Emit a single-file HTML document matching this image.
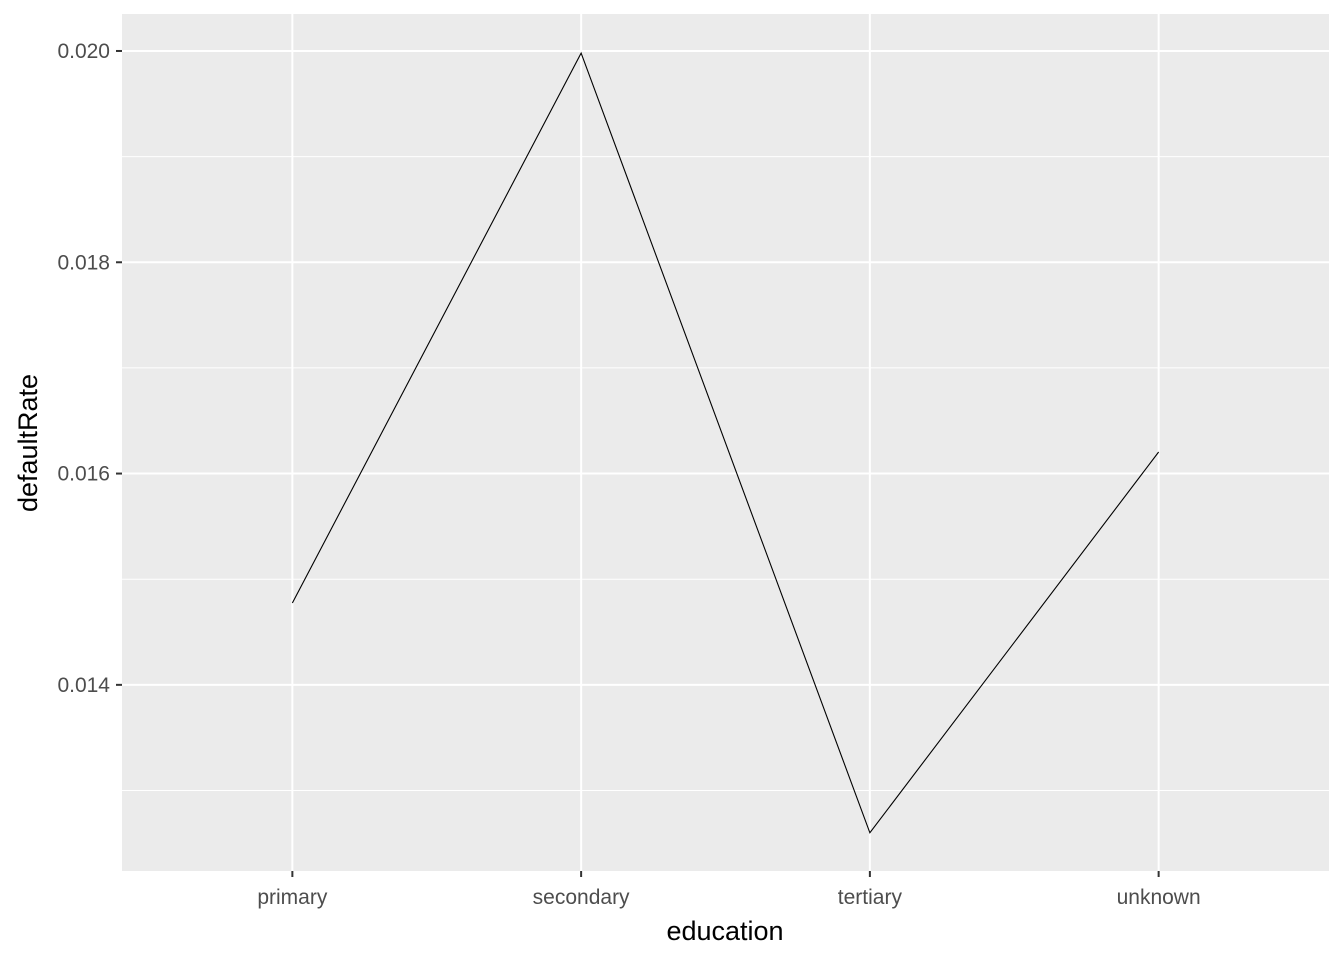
<!DOCTYPE html>
<html><head><meta charset="utf-8"><style>
html,body{margin:0;padding:0;background:#fff;}
svg{display:block;font-family:"Liberation Sans",Arial,sans-serif;}
</style></head><body>
<svg id="chart" width="1344" height="960">
<rect x="122" y="14" width="1207" height="857" fill="#EBEBEB"/>
<g id="grid"></g>
<g id="marks"></g>
<g id="axes"></g>
<text x="725" y="940" text-anchor="middle" font-size="27" fill="#000">education</text>
<text transform="translate(37,443) rotate(-90)" text-anchor="middle" font-size="27" fill="#000">defaultRate</text>
</svg>
<script>
const categories = ["primary","secondary","tertiary","unknown"];
const defaultRates = [0.014775, 0.01998, 0.0126, 0.016204];
const yTicks = [0.014, 0.016, 0.018, 0.020];
const yTickLabels = ["0.014","0.016","0.018","0.020"];

const NS = "http://www.w3.org/2000/svg";
const px0 = 122, px1 = 1329, py0 = 14, py1 = 871;
const yMin = 0.012238, yMax = 0.02035;
function x(i){ const w = (px1-px0); const n = categories.length; const pad = 0.59; return px0 + w*((i+pad)/(n-1+2*pad)); }
function y(v){ return py1 - (v - yMin)/(yMax - yMin)*(py1-py0); }
function mk(tag, attrs, parent){ const e=document.createElementNS(NS,tag); for(const k in attrs) e.setAttribute(k,attrs[k]); parent.appendChild(e); return e; }

const grid = document.getElementById('grid'), marks = document.getElementById('marks'), axes = document.getElementById('axes');
for (let i=0;i<yTicks.length;i++){
  const vals=[yTicks[i]-0.001]; if(i===yTicks.length-1) vals.push(yTicks[i]+0.001);
  vals.forEach(v=>{ if(v>yMin && v<yMax){ const l=mk('line',{x1:px0,x2:px1,y1:y(v),y2:y(v),stroke:'#fff','stroke-width':1},grid);
    
     }});
}
yTicks.forEach((v,i)=>{
  const l=mk('line',{x1:px0,x2:px1,y1:y(v),y2:y(v),stroke:'#fff','stroke-width':2},grid);
  
  
  const t=mk('line',{x1:px0-6,x2:px0,y1:y(v),y2:y(v),stroke:'#333','stroke-width':2},axes);
  
  
  const tx=mk('text',{x:px0-12,y:y(v)+7,'text-anchor':'end','font-size':21,fill:'#4D4D4D'},axes);
  tx.textContent=yTickLabels[i];
  
  
});
categories.forEach((c,i)=>{
  const l=mk('line',{x1:x(i),x2:x(i),y1:py0,y2:py1,stroke:'#fff','stroke-width':2},grid);
  
  
  const t=mk('line',{x1:x(i),x2:x(i),y1:py1,y2:py1+6,stroke:'#333','stroke-width':2},axes);
  
  
  const tx=mk('text',{x:x(i),y:py1+33,'text-anchor':'middle','font-size':21,fill:'#4D4D4D'},axes);
  tx.textContent=c;
  
  
});
const pts = defaultRates.map((v,i)=>x(i)+','+y(v)).join(' ');
const pl = mk('polyline',{points:pts,fill:'none',stroke:'#000','stroke-width':1.1},marks);


</script>
</body></html>
